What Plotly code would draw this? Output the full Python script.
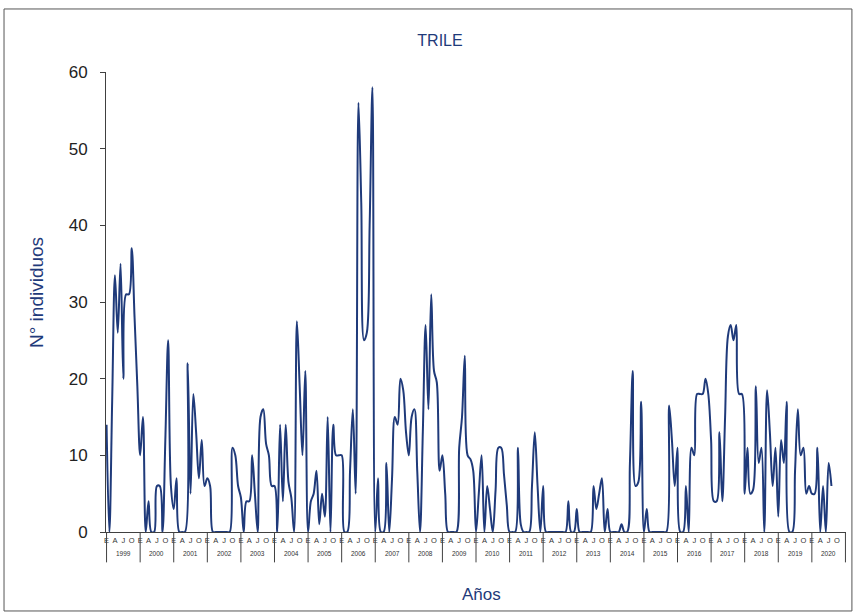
import plotly.graph_objects as go

years = [str(y) for y in range(1999, 2021)]
month_letters = ["E", "", "", "A", "", "", "J", "", "", "O", "", ""]

v1999 = [14, 0, 17, 33.5, 26, 35, 20, 31, 31, 37, 28, 19]
v2000 = [10, 15, 0, 4, 0, 0, 6, 6, 0, 12, 25, 6]
v2001 = [3, 7, 0, 0, 0, 22, 5, 18, 13, 7, 12, 6]
v2002 = [7, 6, 0, 0, 0, 0, 0, 0, 0, 11, 10, 6]
v2003 = [4.5, 0, 4, 4, 10, 5, 0, 15, 16, 11.5, 10, 6]
v2004 = [6, 0, 14, 4, 14, 6.5, 4.5, 0, 27.5, 19, 10, 21]
v2005 = [0, 4, 5, 8, 1, 5, 2, 15, 0, 14, 10, 10]
v2006 = [10, 0, 0, 8, 16, 5, 56, 43, 25, 26, 40, 58]
v2007 = [0, 7, 0, 0, 9, 0, 7, 15, 14, 20, 18.5, 13]
v2008 = [10, 15, 16, 8, 0, 13, 27, 16, 31, 21, 19.5, 8]
v2009 = [10, 5, 0, 0, 0, 0, 11, 15, 23, 10, 9.5, 8]
v2010 = [0, 5, 10, 0, 6, 3, 0, 5.5, 11, 11, 7.5, 3.5]
v2011 = [0, 0, 0, 11, 1, 0, 0, 0, 6, 13, 6, 0]
v2012 = [6, 0, 0, 0, 0, 0, 0, 0, 0, 4, 0, 0]
v2013 = [3, 0, 0, 0, 0, 0, 6, 3, 5, 7, 0, 3]
v2014 = [0, 0, 0, 0, 1, 0, 0, 9, 21, 6, 6.5, 17]
v2015 = [0, 3, 0, 0, 0, 0, 0, 0, 0, 16.5, 12, 6]
v2016 = [11, 0, 0, 6, 0, 11, 10, 18, 18, 18, 20, 18]
v2017 = [12, 4, 4, 13, 4, 15, 25.5, 27, 25, 27, 18, 18]
v2018 = [5, 11, 5, 5.5, 19, 9, 11, 0, 18.5, 13, 6, 11]
v2019 = [2, 12, 9, 17, 0, 0, 8, 16, 10, 11, 5, 6]
v2020 = [5, 5, 11, 0, 6, 0, 9, 6, None, None, None, None]

series = [v1999, v2000, v2001, v2002, v2003, v2004, v2005, v2006, v2007, v2008,
          v2009, v2010, v2011, v2012, v2013, v2014, v2015, v2016, v2017, v2018,
          v2019, v2020]

values = [v for yr in series for v in yr]
x_idx = list(range(len(values)))
n_months = len(month_letters)

NAVY = "#1F3A7A"
AXIS = "#404040"
FONT = "Liberation Sans, Arial, sans-serif"

fig = go.Figure()
fig.add_trace(go.Scatter(
    x=x_idx, y=values, mode="lines",
    line=dict(color=NAVY, width=2, shape="spline", smoothing=1.0),
    connectgaps=False, hoverinfo="skip", showlegend=False,
))

tickvals = [i for i in x_idx if month_letters[i % n_months]]
ticktext = [month_letters[i % n_months] for i in tickvals]

fig.update_xaxes(
    range=[-0.2, len(years) * n_months + 0.2],
    showline=True, linecolor=AXIS, linewidth=1,
    showgrid=False, zeroline=False,
    tickmode="array", tickvals=tickvals, ticktext=ticktext,
    ticks="", tickfont=dict(family=FONT, size=7.5, color="#333333"),
    ticklabelstandoff=1,
)
fig.update_yaxes(
    range=[0, 60], tickvals=[0, 10, 20, 30, 40, 50, 60],
    showline=True, linecolor=AXIS, linewidth=1,
    showgrid=False, zeroline=False,
    ticks="outside", ticklen=5, tickcolor=AXIS,
    tickfont=dict(family=FONT, size=17, color="#222222"),
    ticklabelstandoff=9,
)

# year dividers and labels (multi-level category axis)
for k, yr in enumerate(years):
    fig.add_shape(type="line", xref="x", yref="paper",
                  x0=k * n_months, x1=k * n_months, y0=0, y1=-0.066,
                  line=dict(color=AXIS, width=1))
    fig.add_annotation(x=k * n_months + n_months / 2, y=-0.046, xref="x", yref="paper",
                       text=yr, showarrow=False, yanchor="middle", xanchor="center",
                       font=dict(family=FONT, size=6.5, color="#333333"))
fig.add_shape(type="line", xref="x", yref="paper",
              x0=len(years) * n_months, x1=len(years) * n_months, y0=0, y1=-0.066,
              line=dict(color=AXIS, width=1))

# titles
fig.add_annotation(text="N° individuos", textangle=-90, xref="paper", yref="paper",
                   x=-0.093, y=0.52, xanchor="center", yanchor="middle", showarrow=False,
                   font=dict(family=FONT, size=19, color=NAVY))
fig.add_annotation(text="Años", xref="paper", yref="paper",
                   x=0.508, y=-0.135, xanchor="center", yanchor="middle", showarrow=False,
                   font=dict(family=FONT, size=17, color=NAVY))

# chart frame
fig.add_shape(type="rect", xref="paper", yref="paper",
              x0=-0.1378, x1=1.008, y0=-0.1717, y1=1.137,
              line=dict(color="#555555", width=1), layer="below")

fig.update_layout(
    width=856, height=614,
    margin=dict(l=106, r=10, t=72, b=82),
    paper_bgcolor="white", plot_bgcolor="white",
    title=dict(text="TRILE", x=0.514, xref="container", y=1 - 40 / 614,
               yref="container", yanchor="middle", xanchor="center",
               font=dict(family=FONT, size=16, color=NAVY)),
)

fig.write_html("out.html", config={"displayModeBar": False},
               post_script="document.body.style.margin='0';document.body.style.overflow='hidden';")
